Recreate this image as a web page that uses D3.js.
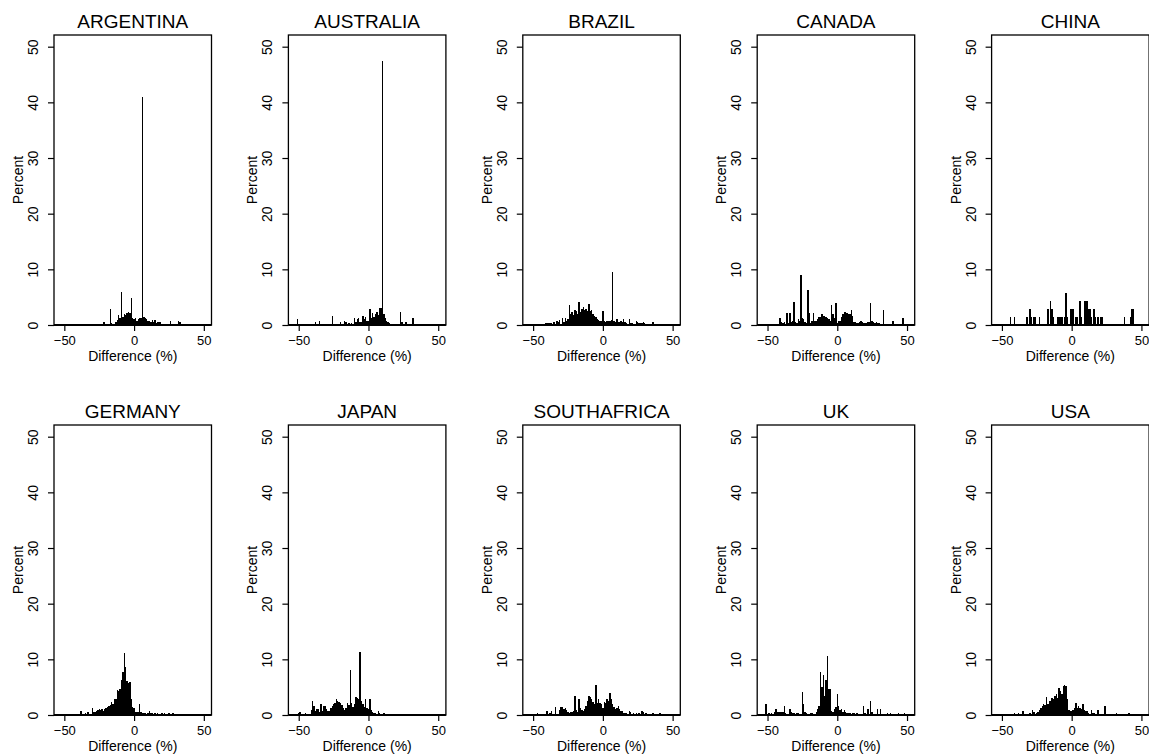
<!DOCTYPE html>
<html lang="en">
<head>
<meta charset="UTF-8">
<title>Difference histograms</title>
<script src="https://d3js.org/d3.v7.min.js"></script>
<style>
    body { margin: 0; background: #fff; }
    text { font-family: "Liberation Sans", Arial, sans-serif; fill: #000; }
</style>
</head>
<body>
<script>

    // panel titles, in drawing order
    const countries = ["ARGENTINA", "AUSTRALIA", "BRAZIL", "CANADA", "CHINA",
        "GERMANY", "JAPAN", "SOUTHAFRICA", "UK", "USA"];

    // [bin centre (%), percent] for each non-empty 1% bin
    const argentina = [[-22,0.5],[-21,0.6],[-17,2.9],[-16,0.3],[-13,0.5],[-12,0.9],[-11,1.8],[-10,1.2],[-9,6.0],[-8,1.5],[-7,2.0],[-6,1.8],[-5,2.1],[-4,2.3],[-3,2.2],[-2,4.8],[-1,1.3],[0,1.1],[1,1.2],[2,0.8],[3,1.0],[4,1.2],[5,1.3],[6,41],[7,1.4],[8,1.2],[9,1.0],[10,0.8],[11,0.7],[12,0.6],[13,0.9],[14,0.6],[15,0.9],[16,0.4],[17,0.6],[18,0.6],[19,0.6],[26,0.8],[32,0.8],[33,0.5]];
    const australia = [[-51,1.1],[-38,0.5],[-35,0.8],[-26,1.6],[-20,0.6],[-17,0.8],[-16,0.6],[-14,0.3],[-12,0.4],[-10,1.2],[-9,0.6],[-8,1.1],[-7,1.2],[-6,0.6],[-5,0.5],[-4,1.7],[-3,1.0],[-2,1.4],[-1,0.7],[0,0.8],[1,2.8],[2,1.2],[3,2.2],[4,1.5],[5,2.0],[6,2.4],[7,1.8],[8,3.1],[9,3.1],[10,47.5],[11,2.0],[12,1.3],[13,0.8],[14,0.5],[15,0.3],[23,2.3],[24,0.6],[27,0.5],[32,1.2]];
    const brazil = [[-41,0.4],[-40,0.4],[-39,0.4],[-38,0.3],[-37,0.4],[-35,0.5],[-33,0.8],[-32,0.6],[-31,0.9],[-29,1.3],[-28,0.6],[-27,1.3],[-26,0.8],[-25,1.0],[-24,3.6],[-23,2.0],[-22,2.3],[-21,1.8],[-20,2.7],[-19,2.6],[-18,2.0],[-17,4.1],[-16,2.3],[-15,2.8],[-14,3.2],[-13,2.7],[-12,2.9],[-11,2.5],[-10,3.8],[-9,2.6],[-8,2.7],[-7,1.9],[-6,1.7],[-5,1.4],[-4,1.1],[-3,0.9],[-2,0.7],[-1,0.7],[0,2.5],[1,0.8],[2,0.6],[3,0.8],[4,0.8],[5,0.7],[6,0.9],[7,9.5],[8,0.7],[9,0.6],[10,1.1],[11,0.6],[12,0.5],[13,0.7],[14,0.5],[15,1.1],[16,0.5],[17,0.4],[19,1.0],[20,0.4],[21,0.3],[24,0.8],[25,0.5],[26,0.3],[27,0.4],[28,0.3],[29,0.5],[30,0.3],[36,0.5]];
    const canada = [[-41,1.3],[-40,0.5],[-39,0.3],[-38,0.6],[-36,2.2],[-35,0.4],[-34,2.2],[-33,0.6],[-32,0.7],[-31,4.1],[-30,0.6],[-29,0.4],[-28,1.1],[-27,0.8],[-26,8.9],[-25,1.3],[-24,1.0],[-23,0.6],[-22,0.4],[-21,6.3],[-20,2.1],[-19,0.4],[-18,0.7],[-17,2.2],[-16,0.8],[-15,0.7],[-14,1.1],[-13,1.4],[-12,1.4],[-11,2.0],[-10,1.7],[-9,1.6],[-8,1.4],[-7,1.3],[-6,1.0],[-5,0.7],[-4,3.6],[-3,2.0],[-2,1.2],[-1,3.9],[0,0.4],[1,0.8],[2,0.7],[3,1.4],[4,2.0],[5,2.3],[6,2.4],[7,2.2],[8,2.0],[9,2.0],[10,2.7],[11,1.7],[12,0.6],[13,0.6],[14,0.4],[15,0.4],[16,0.6],[17,0.8],[18,0.5],[19,0.3],[20,0.4],[21,0.3],[22,0.6],[23,0.5],[24,3.9],[25,0.8],[26,0.5],[27,0.3],[28,0.6],[29,0.4],[30,0.4],[33,2.7],[40,0.8],[47,1.3]];
    const china = [[-44,1.45],[-41,1.45],[-32,1.45],[-30,2.9],[-29,1.45],[-27,1.45],[-26,1.45],[-23,1.45],[-17,2.9],[-15,4.35],[-14,2.9],[-13,1.45],[-10,1.45],[-9,1.45],[-8,1.45],[-7,1.45],[-5,1.45],[-4,5.8],[-3,1.45],[-1,2.9],[0,2.9],[1,2.9],[3,1.45],[4,1.45],[6,4.35],[7,1.45],[9,4.35],[10,4.35],[11,4.35],[12,2.9],[13,2.9],[14,1.45],[16,2.9],[17,1.45],[19,1.45],[21,1.45],[22,1.45],[38,1.45],[42,1.45],[43,2.9],[44,2.9]];
    const germany = [[-38,0.8],[-35,0.3],[-33,0.5],[-30,1.3],[-29,0.5],[-28,0.6],[-27,0.7],[-26,0.9],[-25,1.0],[-24,0.9],[-23,1.0],[-22,0.8],[-21,1.1],[-20,1.3],[-19,1.5],[-18,1.6],[-17,1.8],[-16,2.3],[-15,2.0],[-14,2.9],[-13,2.8],[-12,4.5],[-11,4.4],[-10,4.7],[-9,6.2],[-8,7.8],[-7,11.1],[-6,8.6],[-5,6.1],[-4,5.8],[-3,5.9],[-2,2.8],[-1,1.4],[0,1.3],[1,0.6],[2,0.5],[3,0.5],[4,2.0],[5,0.6],[6,0.4],[7,0.4],[8,0.3],[10,0.4],[11,0.8],[12,0.4],[13,0.3],[15,0.3],[17,0.3],[20,0.4],[22,0.3],[25,0.4],[28,0.4]];
    const japan = [[-50,0.4],[-49,0.5],[-45,0.3],[-41,0.9],[-40,2.5],[-39,1.6],[-38,0.7],[-37,1.0],[-36,1.0],[-35,0.6],[-34,1.9],[-33,0.8],[-32,1.6],[-31,1.6],[-30,1.0],[-29,0.8],[-28,0.7],[-27,1.3],[-26,1.6],[-25,1.9],[-24,2.2],[-23,2.8],[-22,2.5],[-21,2.3],[-20,2.1],[-19,1.8],[-18,1.2],[-17,0.9],[-16,1.2],[-15,2.1],[-14,1.8],[-13,8.0],[-12,2.2],[-11,1.5],[-10,2.0],[-9,3.3],[-8,3.1],[-7,2.9],[-6,11.4],[-5,2.5],[-4,1.9],[-3,1.4],[-2,2.8],[-1,1.3],[0,1.0],[1,2.8],[2,0.9],[3,0.6],[4,0.4],[5,0.3],[7,0.8],[8,0.3],[11,0.4]];
    const southafrica = [[-47,0.4],[-40,0.8],[-38,0.4],[-37,0.8],[-34,1.4],[-31,0.9],[-30,1.4],[-29,1.4],[-28,1.0],[-27,1.3],[-26,0.9],[-25,0.6],[-24,0.4],[-23,0.5],[-22,0.6],[-21,0.7],[-20,3.4],[-19,0.9],[-18,0.6],[-17,2.8],[-16,1.2],[-15,0.9],[-14,0.7],[-13,1.0],[-12,1.6],[-11,2.5],[-10,3.5],[-9,3.3],[-8,2.8],[-7,2.3],[-6,2.0],[-5,5.3],[-4,2.1],[-3,2.8],[-2,2.2],[-1,1.9],[0,1.3],[1,2.4],[2,2.1],[3,2.8],[4,2.5],[5,4.0],[6,2.9],[7,2.0],[8,1.5],[9,1.0],[10,1.2],[11,1.7],[12,1.0],[13,0.8],[14,0.7],[15,0.4],[16,0.3],[17,0.3],[19,0.7],[20,0.5],[22,0.4],[24,0.4],[26,0.3],[28,0.8],[29,0.5],[31,0.3],[36,0.4],[41,0.4]];
    const uk = [[-51,1.9],[-49,0.4],[-47,0.4],[-45,0.5],[-44,1.0],[-43,0.6],[-42,0.6],[-41,0.6],[-40,0.6],[-39,0.6],[-38,1.6],[-37,0.4],[-34,1.0],[-33,0.6],[-32,0.4],[-31,0.3],[-29,0.3],[-28,0.4],[-25,4.2],[-24,1.9],[-23,0.6],[-22,0.3],[-19,0.3],[-18,0.4],[-15,0.6],[-14,1.0],[-13,1.6],[-12,7.8],[-11,5.1],[-10,7.2],[-9,3.4],[-8,6.3],[-7,10.6],[-6,4.7],[-5,4.7],[-4,0.8],[-3,0.5],[-2,1.0],[-1,1.5],[0,3.7],[1,1.6],[2,0.9],[3,1.0],[4,0.5],[5,0.9],[6,0.6],[7,0.4],[8,0.4],[9,0.4],[11,0.4],[12,0.4],[14,0.3],[19,1.6],[20,0.4],[22,1.0],[24,2.5],[25,0.6],[29,1.0],[31,1.0],[36,0.4],[38,0.4],[44,0.4],[48,0.4]];
    const usa = [[-41,0.4],[-38,0.4],[-35,0.8],[-30,0.4],[-28,0.9],[-27,0.5],[-25,0.4],[-24,0.6],[-23,0.9],[-22,1.3],[-21,1.6],[-20,2.0],[-19,1.8],[-18,3.3],[-17,1.9],[-16,2.5],[-15,2.5],[-14,3.1],[-13,2.8],[-12,3.4],[-11,3.7],[-10,3.1],[-9,4.9],[-8,4.3],[-7,3.8],[-6,5.2],[-5,5.3],[-4,5.2],[-3,2.8],[-2,0.9],[-1,0.8],[0,0.8],[1,0.9],[2,1.3],[3,2.2],[4,1.3],[5,1.6],[6,1.2],[7,1.1],[8,1.9],[9,0.9],[10,0.8],[11,0.8],[12,0.4],[14,0.9],[15,0.4],[16,0.3],[19,0.9],[24,1.7],[32,0.4],[41,0.4]];

    const series = [argentina, australia, brazil, canada, china,
        germany, japan, southafrica, uk, usa];

    const xTicks = [-50, 0, 50];
    const yTicks = [0, 10, 20, 30, 40, 50];

    const svg = d3.select("body").append("svg")
        .attr("width", 1149)
        .attr("height", 754);

    // plot box of one panel
    const boxW = 157.5, boxH = 290;

    const x = d3.scaleLinear().domain([-57.4, 55.5]).range([0, boxW]);
    const y = d3.scaleLinear().domain([0, 52.1]).range([boxH, 0]);
    const binW = x(1) - x(0);

    countries.forEach((name, i) => {
        const col = i % 5, row = Math.floor(i / 5);
        const g = svg.append("g")
            .attr("transform", `translate(${54 + col * 234.4},${35 + row * 390})`);

        // bars (crisp so neighbouring bins join up without hairline gaps)
        g.append("g")
            .attr("shape-rendering", "crispEdges")
            .selectAll("rect")
            .data(series[i])
            .join("rect")
            .attr("x", d => x(d[0] - 0.5))
            .attr("width", binW)
            .attr("y", d => y(d[1]))
            .attr("height", d => boxH - y(d[1]))
            .attr("fill", "#000");

        // frame
        g.append("rect")
            .attr("width", boxW)
            .attr("height", boxH)
            .attr("fill", "none")
            .attr("stroke", "#000")
            .attr("stroke-width", 1.3);
        g.append("line")
            .attr("x1", 0).attr("x2", boxW)
            .attr("y1", boxH).attr("y2", boxH)
            .attr("stroke", "#000")
            .attr("stroke-width", 2.2);

        // y axis, labels turned vertical
        const ya = g.append("g")
            .call(d3.axisLeft(y).tickValues(yTicks).tickSize(6));
        ya.select(".domain").remove();
        ya.attr("font-family", null).attr("font-size", null);
        ya.selectAll("line").attr("stroke", "#000").attr("stroke-width", 1.2);
        ya.selectAll("text")
            .attr("transform", "rotate(-90)")
            .attr("x", 0)
            .attr("y", -16)
            .attr("dy", null)
            .style("text-anchor", "middle")
            .style("font-size", "14px");

        // x axis
        const xa = g.append("g")
            .attr("transform", `translate(0,${boxH})`)
            .call(d3.axisBottom(x).tickValues(xTicks).tickSize(6));
        xa.select(".domain").remove();
        xa.attr("font-family", null).attr("font-size", null);
        xa.selectAll("line").attr("stroke", "#000").attr("stroke-width", 1.2);
        xa.selectAll("text")
            .attr("y", 20)
            .attr("dy", null)
            .style("font-size", "13px");

        // titles
        g.append("text")
            .attr("x", boxW / 2)
            .attr("y", -7)
            .attr("text-anchor", "middle")
            .style("font-size", "19px")
            .text(name);

        g.append("text")
            .attr("x", boxW / 2)
            .attr("y", boxH + 35.5)
            .attr("text-anchor", "middle")
            .style("font-size", "14px")
            .text("Difference (%)");

        g.append("text")
            .attr("transform", `translate(-31,${boxH / 2}) rotate(-90)`)
            .attr("text-anchor", "middle")
            .style("font-size", "14px")
            .text("Percent");
    });

</script>
</body>
</html>
